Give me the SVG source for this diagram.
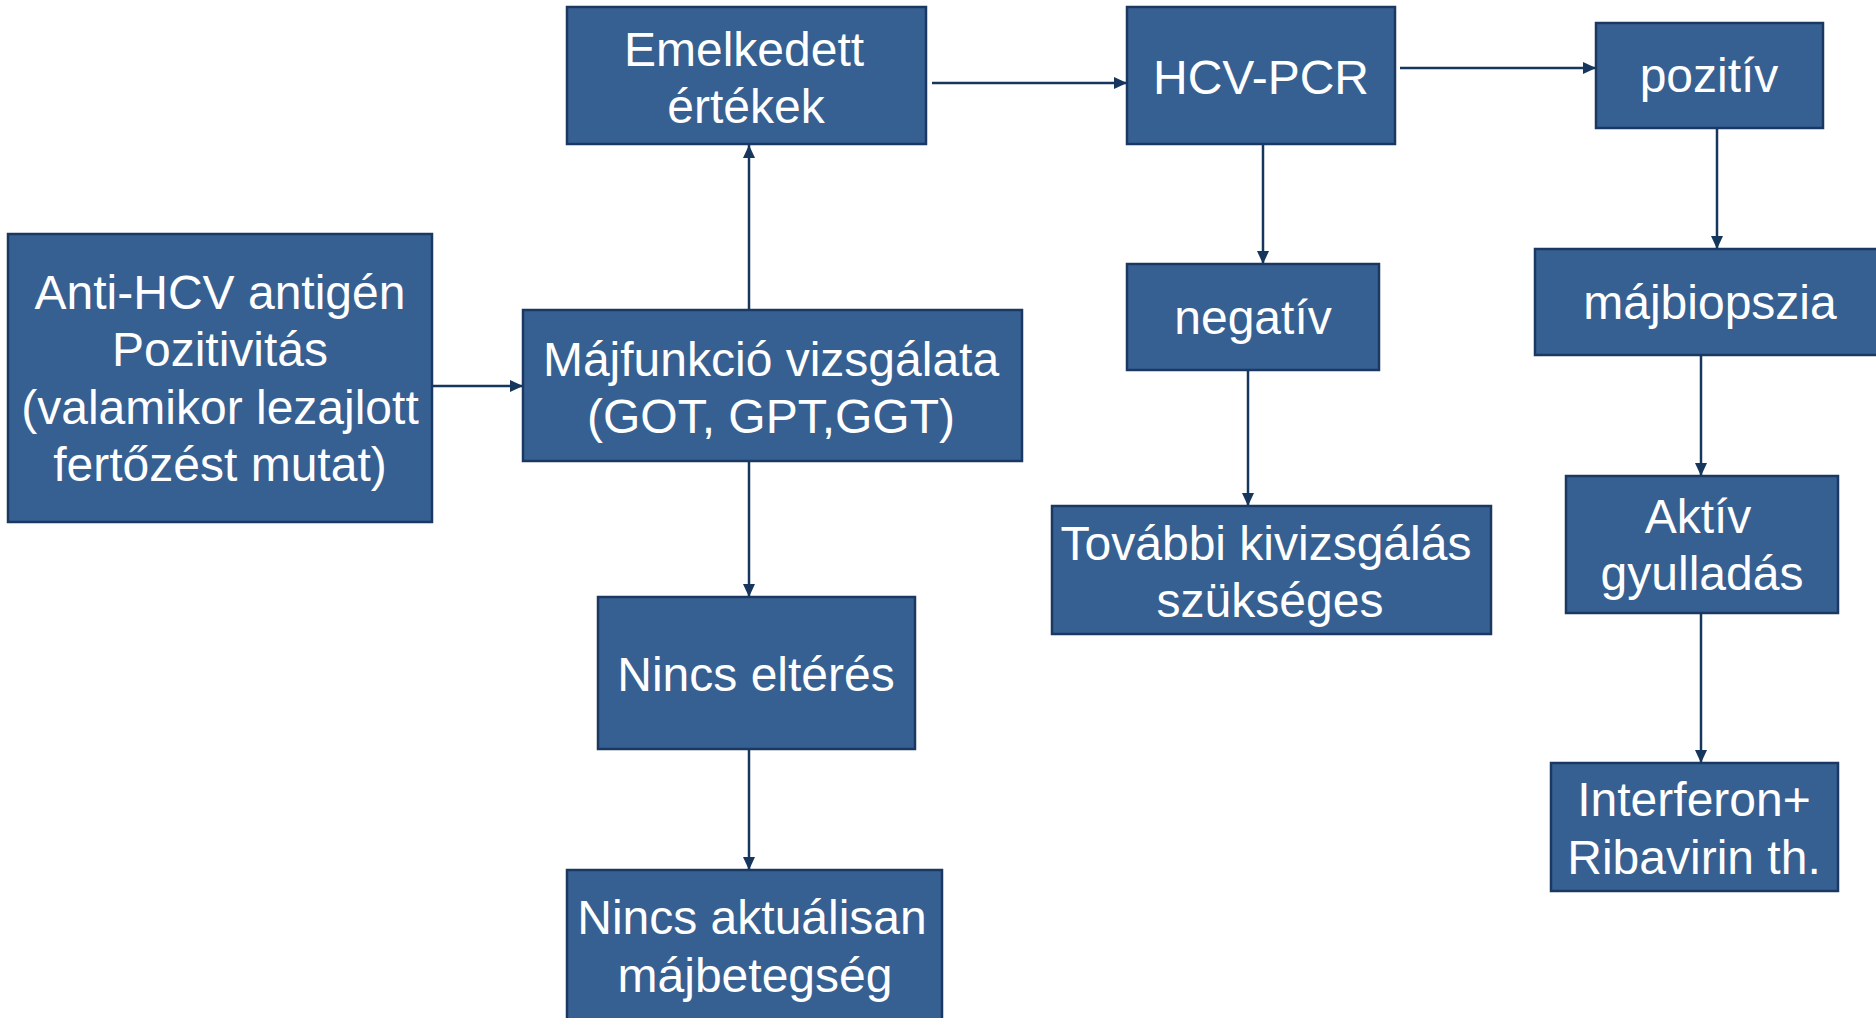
<svg xmlns="http://www.w3.org/2000/svg" width="1876" height="1018" viewBox="0 0 1876 1018">
<defs>
<style>
.box{fill:#376092;stroke:#1b3862;stroke-width:2.5}
.t{font-family:"Liberation Sans",Arial,sans-serif;font-size:48px;fill:#ffffff;text-anchor:middle}
.c{stroke:#17365d;stroke-width:2.5;fill:none;marker-end:url(#ah)}
</style>
<marker id="ah" viewBox="0 0 13 12" refX="13" refY="6" markerWidth="13" markerHeight="12" markerUnits="userSpaceOnUse" orient="auto">
<path d="M0,0 L13,6 L0,12 Z" fill="#17365d"/>
</marker>
</defs>
<rect width="1876" height="1018" fill="#ffffff"/>
<g id="connectors">
<line class="c" x1="432" y1="386" x2="523" y2="386"/>
<line class="c" x1="749" y1="310" x2="749" y2="145"/>
<line class="c" x1="749" y1="461" x2="749" y2="597"/>
<line class="c" x1="749" y1="749" x2="749" y2="870"/>
<line class="c" x1="932" y1="83" x2="1127" y2="83"/>
<line class="c" x1="1400" y1="68" x2="1596" y2="68"/>
<line class="c" x1="1263" y1="144" x2="1263" y2="264"/>
<line class="c" x1="1248" y1="370" x2="1248" y2="506"/>
<line class="c" x1="1717" y1="128" x2="1717" y2="249"/>
<line class="c" x1="1701" y1="355" x2="1701" y2="476"/>
<line class="c" x1="1701" y1="613" x2="1701" y2="763"/>
</g>
<g id="anti-hcv">
<rect class="box" x="8" y="234" width="424" height="288"/>
<text class="t" x="220" y="309">Anti-HCV antigén</text>
<text class="t" x="220" y="366">Pozitivitás</text>
<text class="t" x="220" y="424">(valamikor lezajlott</text>
<text class="t" x="220" y="481">fertőzést mutat)</text>
</g>
<g id="majfunkcio">
<rect class="box" x="523" y="310" width="499" height="151"/>
<text class="t" x="771" y="376">Májfunkció vizsgálata</text>
<text class="t" x="771" y="433">(GOT, GPT,GGT)</text>
</g>
<g id="emelkedett">
<rect class="box" x="567" y="7" width="359" height="137"/>
<text class="t" x="744" y="66">Emelkedett</text>
<text class="t" x="746" y="123">értékek</text>
</g>
<g id="nincs-elteres">
<rect class="box" x="598" y="597" width="317" height="152"/>
<text class="t" x="756" y="691">Nincs eltérés</text>
</g>
<g id="nincs-aktualisan">
<rect class="box" x="567" y="870" width="375" height="160"/>
<text class="t" x="752" y="934">Nincs aktuálisan</text>
<text class="t" x="755" y="992">májbetegség</text>
</g>
<g id="hcv-pcr">
<rect class="box" x="1127" y="7" width="268" height="137"/>
<text class="t" x="1261" y="94">HCV-PCR</text>
</g>
<g id="negativ">
<rect class="box" x="1127" y="264" width="252" height="106"/>
<text class="t" x="1253" y="334">negatív</text>
</g>
<g id="tovabbi">
<rect class="box" x="1052" y="506" width="439" height="128"/>
<text class="t" x="1266" y="560">További kivizsgálás</text>
<text class="t" x="1270" y="617">szükséges</text>
</g>
<g id="pozitiv">
<rect class="box" x="1596" y="23" width="227" height="105"/>
<text class="t" x="1709" y="92">pozitív</text>
</g>
<g id="majbiopszia">
<rect class="box" x="1535" y="249" width="345" height="106"/>
<text class="t" x="1710" y="319">májbiopszia</text>
</g>
<g id="aktiv">
<rect class="box" x="1566" y="476" width="272" height="137"/>
<text class="t" x="1698" y="533">Aktív</text>
<text class="t" x="1702" y="590">gyulladás</text>
</g>
<g id="interferon">
<rect class="box" x="1551" y="763" width="287" height="128"/>
<text class="t" x="1694" y="816">Interferon+</text>
<text class="t" x="1694" y="874">Ribavirin th.</text>
</g>
</svg>
